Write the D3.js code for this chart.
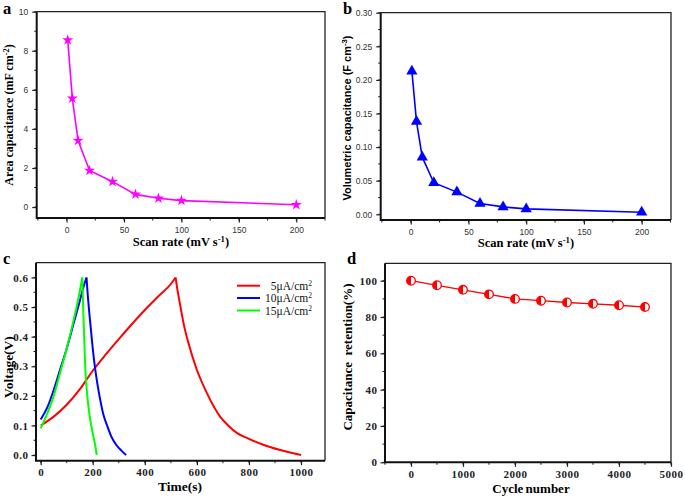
<!DOCTYPE html>
<html><head><meta charset="utf-8">
<script src="https://cdn.jsdelivr.net/npm/d3@7"></script>
<style>body{margin:0;background:#fff}svg{display:block}</style>
</head><body><div id="chart"></div>
<script>
// ---------- DATA ----------
const scanRates = [1, 5, 10, 20, 40, 60, 80, 100, 200];
const areaCapacitance = [8.55, 5.57, 3.4, 1.87, 1.3, 0.65, 0.45, 0.33, 0.12];
const volumetricCapacitance = [0.213, 0.138, 0.085, 0.047, 0.033, 0.016, 0.011, 0.008, 0.003];

const seriesNames = ["5μA/cm", "10μA/cm", "15μA/cm"];
const seriesColors = ["#ff0000", "#0000ff", "#00ff00"];
// charge / discharge curves (time s, voltage V)
const t5Charge = [0, 50, 100, 150, 200, 250, 300, 350, 400, 450, 500, 518];
const v5Charge = [0.10, 0.13, 0.17, 0.222, 0.285, 0.34, 0.392, 0.442, 0.49, 0.535, 0.578, 0.60];
const t5Discharge = [518, 525, 535, 550, 567, 599, 638, 689, 720, 753, 800, 855, 920, 1000];
const v5Discharge = [0.60, 0.56, 0.51, 0.44, 0.38, 0.29, 0.21, 0.13, 0.10, 0.075, 0.055, 0.035, 0.017, 0.0];
const t10Charge = [0, 25, 50, 75, 100, 125, 150, 165, 176];
const v10Charge = [0.12, 0.16, 0.22, 0.29, 0.36, 0.44, 0.52, 0.57, 0.60];
const t10Discharge = [176, 180, 190, 200, 208, 218, 228, 240, 255, 270, 290, 310, 328];
const v10Discharge = [0.60, 0.55, 0.45, 0.36, 0.30, 0.24, 0.19, 0.14, 0.10, 0.065, 0.035, 0.015, 0.0];
const t15Charge = [0, 25, 50, 75, 100, 125, 145, 160];
const v15Charge = [0.09, 0.14, 0.20, 0.28, 0.36, 0.45, 0.53, 0.60];
const t15Discharge = [160, 163, 167, 171, 177, 184, 192, 202, 210, 215];
const v15Discharge = [0.60, 0.50, 0.40, 0.30, 0.22, 0.16, 0.11, 0.065, 0.03, 0.0];

const cycles = [0, 500, 1000, 1500, 2000, 2500, 3000, 3500, 4000, 4500];
const retention = [100, 97.5, 95, 92.5, 90, 89, 88, 87.3, 86.5, 85.5];

const ticksA_x = [0, 50, 100, 150, 200], ticksA_y = [0, 2, 4, 6, 8, 10];
const ticksB_y = [0.00, 0.05, 0.10, 0.15, 0.20, 0.25, 0.30];
const ticksC_x = [0, 200, 400, 600, 800, 1000], ticksC_y = [0.0, 0.1, 0.2, 0.3, 0.4, 0.5, 0.6];
const ticksD_x = [0, 1000, 2000, 3000, 4000, 5000], ticksD_y = [0, 20, 40, 60, 80, 100];

// ---------- DRAW ----------
const svg = d3.select("#chart").append("svg").attr("width", 685).attr("height", 497);
const SERIF = "'Liberation Serif','Times New Roman',serif";
const SANS = "'Liberation Sans',Arial,sans-serif";

function panel(c) {
  const x = d3.scaleLinear().domain(c.xd).range([c.l, c.r]);
  const y = d3.scaleLinear().domain(c.yd).range([c.b, c.t]);
  const g = svg.append("g");
  g.append("path").attr("d", `M${c.l},${c.t}H${c.r}V${c.b}`).attr("fill", "none")
    .attr("stroke", "#222").attr("stroke-width", 1.3);
  const xMin = d3.range(c.xm[0], c.xm[1] + 1e-9, c.xm[2]);
  const yMin = d3.range(c.ym[0], c.ym[1] + 1e-9, c.ym[2]);
  g.selectAll(null).data(xMin).join("line").attr("x1", d => x(d)).attr("x2", d => x(d))
    .attr("y1", c.b).attr("y2", c.b + 2.5).attr("stroke", "#222").attr("stroke-width", 1);
  g.selectAll(null).data(yMin).join("line").attr("y1", d => y(d)).attr("y2", d => y(d))
    .attr("x1", c.l).attr("x2", c.l - 2.5).attr("stroke", "#222").attr("stroke-width", 1);
  const ax = d3.axisBottom(x).tickValues(c.xt).tickSize(4.5).tickSizeOuter(0).tickPadding(c.pad).tickFormat(c.xf);
  const ay = d3.axisLeft(y).tickValues(c.yt).tickSize(4.5).tickSizeOuter(0).tickPadding(c.pad).tickFormat(c.yf);
  const gx = g.append("g").attr("transform", `translate(0,${c.b})`).call(ax);
  const gy = g.append("g").attr("transform", `translate(${c.l},0)`).call(ay);
  [gx, gy].forEach(a => {
    a.select(".domain").remove();
    a.selectAll("line").attr("stroke", "#222").attr("stroke-width", 1.2);
    a.selectAll("text").attr("font-family", c.tf).attr("font-size", c.ts)
      .attr("font-weight", c.tw).attr("fill", c.tc).attr("letter-spacing", c.ls || 0);
  });
  g.append("path").attr("d", `M${c.l},${c.t}V${c.b}H${c.r}`).attr("fill", "none")
    .attr("stroke", "#111").attr("stroke-width", 2);
  return {x, y, g};
}

function sup(textSel, parts) {
  parts.forEach(p => {
    if (p.s) textSel.append("tspan").attr("dy", -4).attr("font-size", "0.7em").text(p.s);
    else if (p.after) textSel.append("tspan").attr("dy", 4).text(p.after);
    else textSel.append("tspan").text(p.t);
  });
}

// Panel a
const A = panel({l: 36.7, t: 11.7, r: 325, b: 218, xd: [-26, 225], yd: [-0.56, 10],
  xt: ticksA_x, yt: ticksA_y, xm: [-25, 225, 25], ym: [0, 10, 1], xf: d3.format("d"), yf: d3.format("d"),
  tf: SANS, ts: 8.5, tw: "normal", tc: "#333", pad: 4});
A.g.append("path").datum(scanRates.map((d, i) => [d, areaCapacitance[i]]))
  .attr("d", d3.line().x(d => A.x(d[0])).y(d => A.y(d[1])))
  .attr("fill", "none").attr("stroke", "#ff00ff").attr("stroke-width", 1.6);
A.g.selectAll(null).data(scanRates.map((d, i) => [d, areaCapacitance[i]])).join("path")
  .attr("transform", d => `translate(${A.x(d[0])},${A.y(d[1])})`)
  .attr("d", d3.symbol(d3.symbolStar, 38)).attr("fill", "#ff00ff");
{
  const t = svg.append("text").attr("transform", "translate(13,115) rotate(-90)").attr("text-anchor", "middle")
    .attr("font-family", SERIF).attr("font-weight", "bold").attr("font-size", 12);
  sup(t, [{t: "Area capacitance (mF cm"}, {s: "-2"}, {after: ")"}]);
  const t2 = svg.append("text").attr("x", 181).attr("y", 246).attr("text-anchor", "middle")
    .attr("font-family", SERIF).attr("font-weight", "bold").attr("font-size", 12.5);
  sup(t2, [{t: "Scan rate (mV s"}, {s: "-1"}, {after: ")"}]);
}

// Panel b
const B = panel({l: 380.7, t: 12.7, r: 671, b: 220, xd: [-26, 225.4], yd: [-0.0085, 0.30],
  xt: ticksA_x, yt: ticksB_y, xm: [-25, 225, 25], ym: [0, 0.3, 0.025], xf: d3.format("d"), yf: d3.format(".2f"),
  tf: SANS, ts: 8.5, tw: "normal", tc: "#333", pad: 4});
B.g.append("path").datum(scanRates.map((d, i) => [d, volumetricCapacitance[i]]))
  .attr("d", d3.line().x(d => B.x(d[0])).y(d => B.y(d[1])))
  .attr("fill", "none").attr("stroke", "#0000ff").attr("stroke-width", 1.6);
B.g.selectAll(null).data(scanRates.map((d, i) => [d, volumetricCapacitance[i]])).join("path")
  .attr("transform", d => `translate(${B.x(d[0])},${B.y(d[1])})`)
  .attr("d", d3.symbol(d3.symbolTriangle, 55)).attr("fill", "#0000ff");
{
  const t = svg.append("text").attr("transform", "translate(351,118) rotate(-90)").attr("text-anchor", "middle")
    .attr("font-family", SANS).attr("font-weight", "bold").attr("font-size", 11);
  sup(t, [{t: "Volumetric capacitance (F cm"}, {s: "-3"}, {after: ")"}]);
  const t2 = svg.append("text").attr("x", 526).attr("y", 247).attr("text-anchor", "middle")
    .attr("font-family", SERIF).attr("font-weight", "bold").attr("font-size", 12.5);
  sup(t2, [{t: "Scan rate (mV s"}, {s: "-1"}, {after: ")"}]);
}

// Panel c
const C = panel({l: 36, t: 262.7, r: 325, b: 460.7, xd: [-18, 1092], yd: [-0.019, 0.65],
  xt: ticksC_x, yt: ticksC_y, xm: [0, 1000, 100], ym: [0, 0.6, 0.05], xf: d3.format("d"), yf: d3.format(".1f"),
  tf: SERIF, ts: 11, tw: "bold", tc: "#222", pad: 3, ls: 0.5});
const cSeries = [
  [t5Charge, v5Charge, t5Discharge, v5Discharge],
  [t10Charge, v10Charge, t10Discharge, v10Discharge],
  [t15Charge, v15Charge, t15Discharge, v15Discharge]];
const lineC = d3.line().x(d => C.x(d[0])).y(d => C.y(d[1])).curve(d3.curveMonotoneX);
cSeries.forEach((s, i) => {
  [[s[0], s[1]], [s[2], s[3]]].forEach(([ts, vs]) => {
    C.g.append("path").datum(ts.map((t, j) => [t, vs[j]])).attr("d", lineC)
      .attr("fill", "none").attr("stroke", seriesColors[i]).attr("stroke-width", 2);
  });
});
const legRows = [285.7, 298, 310.5];
seriesNames.forEach((n, i) => {
  C.g.append("line").attr("x1", 237).attr("x2", 260).attr("y1", legRows[i]).attr("y2", legRows[i])
    .attr("stroke", seriesColors[i]).attr("stroke-width", 2);
  const t = C.g.append("text").attr("x", 312).attr("y", legRows[i] + 4).attr("text-anchor", "end")
    .attr("font-family", SERIF).attr("font-size", 11.5).attr("fill", "#111");
  t.append("tspan").text(n);
  t.append("tspan").attr("dy", -4).attr("font-size", 7.5).text("2");
});
svg.append("text").attr("transform", "translate(13,367) rotate(-90)").attr("text-anchor", "middle")
  .attr("font-family", SERIF).attr("font-weight", "bold").attr("font-size", 13.5).text("Voltage(V)");
svg.append("text").attr("x", 180).attr("y", 491).attr("text-anchor", "middle")
  .attr("font-family", SERIF).attr("font-weight", "bold").attr("font-size", 13.5).text("Time(s)");

// Panel d
const D = panel({l: 385, t: 263.3, r: 671, b: 462.3, xd: [-500, 5000], yd: [0, 109.6],
  xt: ticksD_x, yt: ticksD_y, xm: [-500, 5000, 500], ym: [0, 100, 10], xf: d3.format("d"), yf: d3.format("d"),
  tf: SERIF, ts: 11, tw: "bold", tc: "#222", pad: 3, ls: 0.5});
const dPts = cycles.map((c, i) => [c, retention[i]]);
D.g.append("path").datum(dPts).attr("d", d3.line().x(d => D.x(d[0])).y(d => D.y(d[1])))
  .attr("fill", "none").attr("stroke", "#ff0000").attr("stroke-width", 1.3);
const mk = D.g.selectAll(null).data(dPts).join("g")
  .attr("transform", d => `translate(${D.x(d[0])},${D.y(d[1])})`);
mk.append("circle").attr("r", 4.3).attr("fill", "#fff").attr("stroke", "#ff0000").attr("stroke-width", 1.3);
mk.append("path").attr("d", d3.arc()({innerRadius: 0, outerRadius: 4.3, startAngle: Math.PI, endAngle: 2 * Math.PI}))
  .attr("fill", "#ff0000");
svg.append("text").attr("transform", "translate(352,357) rotate(-90)").attr("text-anchor", "middle")
  .attr("font-family", SERIF).attr("font-weight", "bold").attr("font-size", 13).style("white-space", "pre")
  .text("Capacitance  retention(%)");
svg.append("text").attr("x", 531).attr("y", 493).attr("text-anchor", "middle")
  .attr("font-family", SERIF).attr("font-weight", "bold").attr("font-size", 13).attr("word-spacing", -1)
  .text("Cycle number");

// panel letters
[["a", 3, 14], ["b", 343, 14], ["c", 3, 264], ["d", 347, 264]].forEach(([l, x, y]) => {
  svg.append("text").attr("x", x).attr("y", y).attr("font-family", SERIF).attr("font-weight", "bold")
    .attr("font-size", 16.5).text(l);
});
</script></body></html>
